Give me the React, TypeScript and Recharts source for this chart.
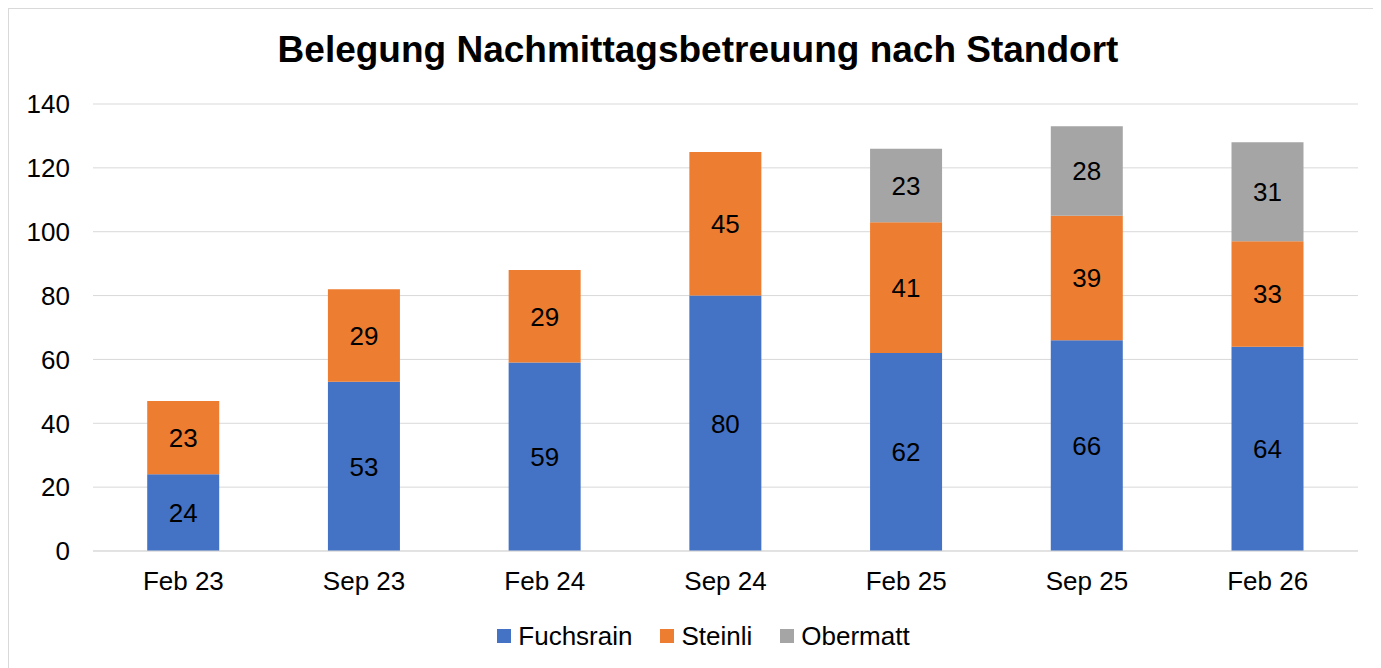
import { BarChart, Bar, XAxis, YAxis, CartesianGrid, Legend, LabelList } from 'recharts';

const periods = ['Feb 23', 'Sep 23', 'Feb 24', 'Sep 24', 'Feb 25', 'Sep 25', 'Feb 26'];
const fuchsrain = [24, 53, 59, 80, 62, 66, 64];
const steinli = [23, 29, 29, 45, 41, 39, 33];
const obermatt: (number | null)[] = [null, null, null, null, 23, 28, 31];
const yTicks = [0, 20, 40, 60, 80, 100, 120, 140];

const series = [
  { key: 'fuchsrain', name: 'Fuchsrain', color: '#4472C4' },
  { key: 'steinli', name: 'Steinli', color: '#ED7D31' },
  { key: 'obermatt', name: 'Obermatt', color: '#A5A5A5' },
];

const data = periods.map((p, i) => ({
  period: p,
  fuchsrain: fuchsrain[i],
  steinli: steinli[i],
  obermatt: obermatt[i],
}));

const font = '"Liberation Sans", Arial, sans-serif';

function LegendContent() {
  return (
    <div style={{ height: 40, paddingLeft: 40, display: 'flex', justifyContent: 'center', alignItems: 'center', fontFamily: font, fontSize: 26, color: '#000' }}>
      {series.map((s) => (
        <div key={s.key} style={{ display: 'flex', alignItems: 'center', margin: '0 14px' }}>
          <span style={{ width: 14, height: 14, background: s.color, display: 'inline-block', marginRight: 7 }} />
          <span>{s.name}</span>
        </div>
      ))}
    </div>
  );
}

export default function App() {
  return (
    <div
      style={{
        position: 'relative',
        width: 1380,
        height: 670,
        border: '1px solid #d9d9d9',
        boxSizing: 'border-box',
        background: '#fff',
        fontFamily: font,
      }}
    >
      <div
        style={{
          position: 'absolute',
          top: 20,
          left: 0,
          width: '100%',
          textAlign: 'center',
          fontSize: 37,
          fontWeight: 'bold',
          color: '#000',
        }}
      >
        Belegung Nachmittagsbetreuung nach Standort
      </div>
      <BarChart
        width={1370}
        height={660}
        data={data}
        barCategoryGap="30%"
        margin={{ top: 95, right: 21, left: 0, bottom: 13 }}
      >
        <CartesianGrid vertical={false} stroke="#d9d9d9" />
        <XAxis
          dataKey="period"
          height={65}
          tickLine={false}
          tickSize={6}
          tickMargin={15}
          axisLine={{ stroke: '#d9d9d9' }}
          tick={{ fontSize: 26, fill: '#000', fontFamily: font }}
        />
        <YAxis
          width={84}
          domain={[0, 140]}
          ticks={yTicks}
          tickLine={false}
          axisLine={false}
          tickSize={6}
          tickMargin={17}
          tick={{ fontSize: 26, fill: '#000', fontFamily: font }}
        />
        <Legend verticalAlign="bottom" height={40} content={<LegendContent />} />
        {series.map((s) => (
          <Bar key={s.key} dataKey={s.key} name={s.name} stackId="a" fill={s.color} isAnimationActive={false}>
            <LabelList dataKey={s.key} position="center" fill="#000" fontSize={26} fontFamily={font} />
          </Bar>
        ))}
      </BarChart>
    </div>
  );
}
